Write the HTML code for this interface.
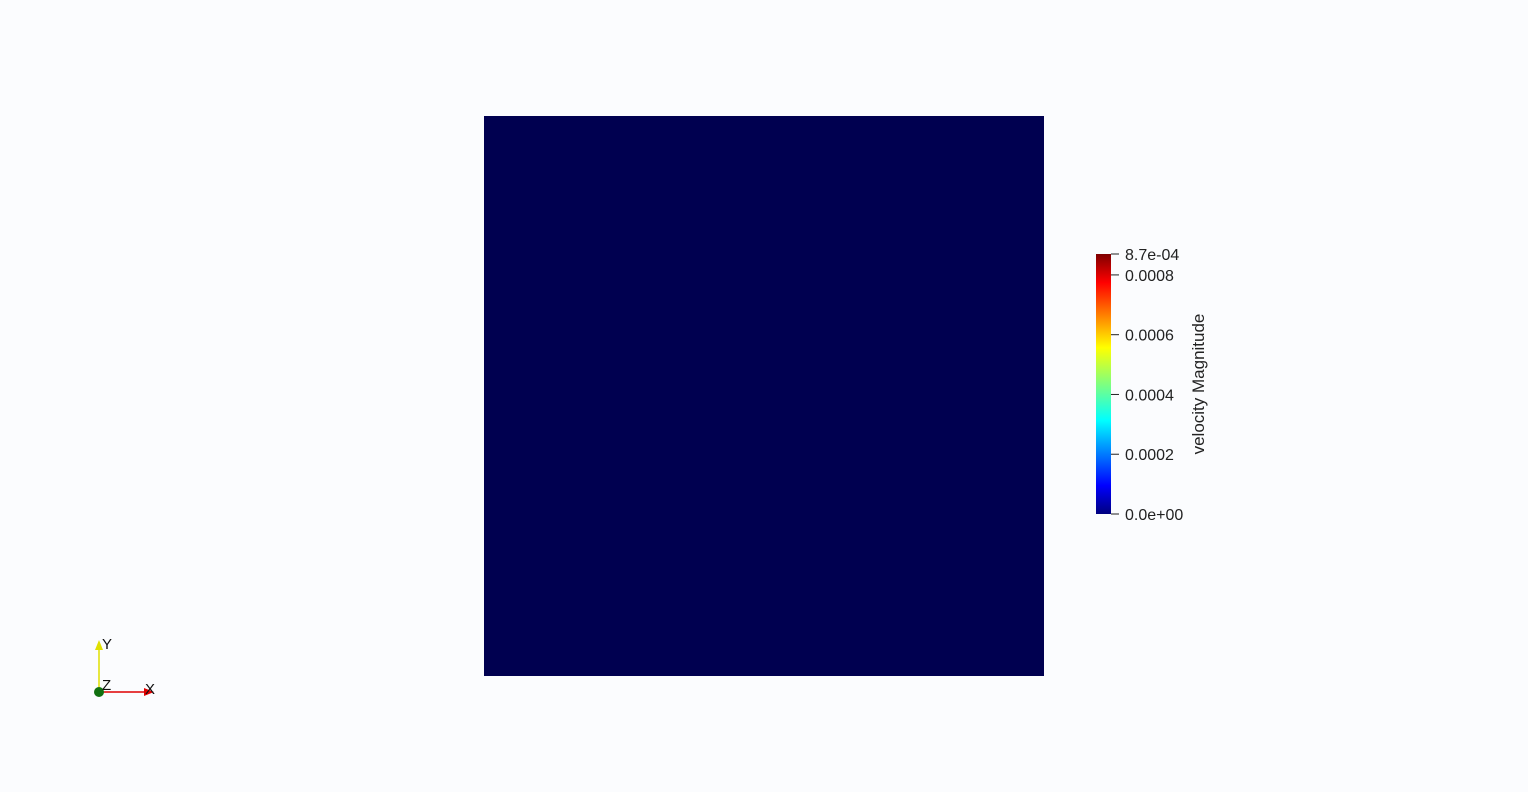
<!DOCTYPE html>
<html><head><meta charset="utf-8"><style>
html,body{margin:0;padding:0;background:#fbfcfe;width:1528px;height:792px;overflow:hidden}
svg{display:block;font-family:"Liberation Sans",sans-serif}
</style></head><body>
<svg id="s" width="1528" height="792">
<defs>
<linearGradient id="jet" x1="0" y1="1" x2="0" y2="0">
<stop offset="0" stop-color="#00007f"/><stop offset="0.11" stop-color="#0000ff"/>
<stop offset="0.36" stop-color="#00ffff"/><stop offset="0.5" stop-color="#7fff7f"/>
<stop offset="0.64" stop-color="#ffff00"/><stop offset="0.89" stop-color="#ff0000"/>
<stop offset="1" stop-color="#7f0000"/></linearGradient>
</defs>
<rect x="484" y="116" width="560" height="560" fill="#000050"/>
<rect x="1096" y="254" width="15" height="260" fill="url(#jet)"/>
<g id="ticks"></g>
<text transform="translate(1204,384) rotate(-90)" text-anchor="middle" font-size="17" fill="#222">velocity Magnitude</text>
<g>
<line x1="99" y1="692" x2="99" y2="645" stroke="#e0e000" stroke-width="1.5"/>
<polygon points="95,650 103,650 99,640" fill="#e0e000"/>
<line x1="99" y1="692" x2="148" y2="692" stroke="#e00000" stroke-width="1.5"/>
<polygon points="144,688 144,696 154,692" fill="#e00000"/>
<circle cx="99" cy="692" r="5" fill="#107010"/>
<text x="102" y="649" font-size="15" fill="#111">Y</text>
<text x="102" y="690" font-size="15" fill="#111">Z</text>
<text x="145" y="694" font-size="15" fill="#111">X</text>
</g>
</svg>
<script>
const tickValues=[0,0.0002,0.0004,0.0006,0.0008,0.00087];
const tickLabels=["0.0e+00","0.0002","0.0004","0.0006","0.0008","8.7e-04"];
const vmin=0,vmax=0.00087,y0=514,y1=254;
function yScale(v){return y0+(v-vmin)/(vmax-vmin)*(y1-y0);}
const g=document.getElementById('ticks');const ns="http://www.w3.org/2000/svg";
tickValues.forEach((v,i)=>{const y=yScale(v);
const l=document.createElementNS(ns,'line');


l.setAttribute('x1',1111);l.setAttribute('x2',1119);l.setAttribute('y1',y);l.setAttribute('y2',y);l.setAttribute('stroke','#222');g.appendChild(l);
const t=document.createElementNS(ns,'text');


t.setAttribute('x',1125);t.setAttribute('y',y+6);t.setAttribute('font-size','16');t.setAttribute('fill','#222');t.textContent=tickLabels[i];g.appendChild(t);});
</script>
</body></html>
